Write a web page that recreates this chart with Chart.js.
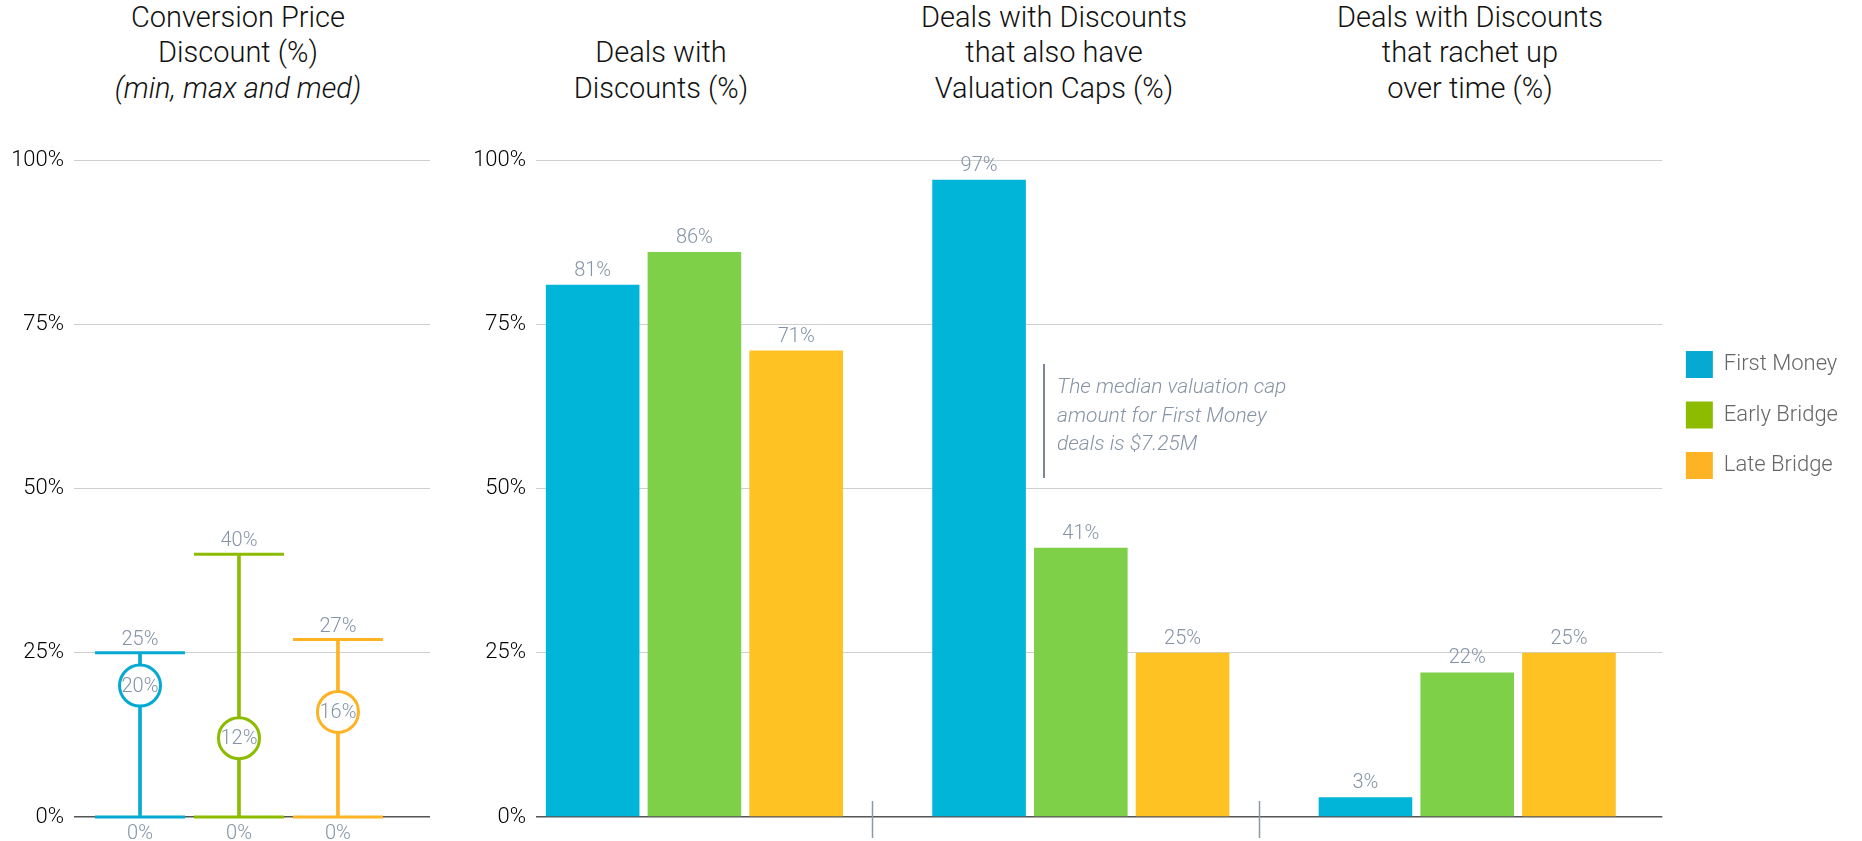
<!DOCTYPE html>
<html>
<head>
<meta charset="utf-8">
<script src="https://cdn.jsdelivr.net/npm/chart.js@4.4.1/dist/chart.umd.min.js"></script>
<style>
  html, body { margin: 0; padding: 0; background: #fff; }
  #wrap { position: relative; width: 1862px; height: 841px; overflow: hidden; font-family: Roboto, 'Helvetica Neue', Arial, sans-serif; font-weight: 300; }
  .title { position: absolute; bottom: 735px; transform: translateX(-50%); text-align: center; white-space: nowrap; font-size: 29px; line-height: 35.5px; color: #111; }
  .title i { font-style: italic; }
  .note { position: absolute; left: 1043px; top: 364px; height: 114px; border-left: 2.5px solid #7A8795; padding-left: 12px; font-size: 21px; line-height: 28.5px; font-style: italic; color: #8794A4; white-space: nowrap; }
  .note div { margin-top: 8px; }
  canvas { position: absolute; top: 0; }
</style>
</head>
<body>
<div id="wrap">
  <div class="title" style="left:238px">Conversion Price<br>Discount (%)<br><i>(min, max and med)</i></div>
  <div class="title" style="left:661px">Deals with<br>Discounts (%)</div>
  <div class="title" style="left:1054px">Deals with Discounts<br>that also have<br>Valuation Caps (%)</div>
  <div class="title" style="left:1470px">Deals with Discounts<br>that rachet up<br>over time (%)</div>
  <canvas id="c1" width="440" height="841" style="left:0px"></canvas>
  <canvas id="c2" width="1422" height="841" style="left:440px"></canvas>
  <div class="note"><div>The median valuation cap<br>amount for First Money<br>deals is $7.25M</div></div>
</div>
<script>
// ---------- data ----------
const seriesNames = ['First Money', 'Early Bridge', 'Late Bridge'];
const seriesColors = ['#05A9D1', '#8DBB00', '#FDB324'];   // whiskers / legend
const barColors = ['#01B5D8', '#7ED048', '#FEC222'];      // bars
const discountMin = [0, 0, 0];
const discountMax = [25, 40, 27];
const discountMed = [20, 12, 16];
const groupCategories = ['Deals with Discounts', 'Discounts with Valuation Caps', 'Discounts that rachet up'];
const firstMoney = [81, 97, 3];
const earlyBridge = [86, 41, 22];
const lateBridge = [71, 25, 25];
const yTickValues = [0, 25, 50, 75, 100];

const FONT = "Roboto, 'Helvetica Neue', Arial, sans-serif";
const labelColor = '#8493A5';
Chart.defaults.font.family = FONT;
Chart.defaults.font.weight = '300';
Chart.defaults.animation = false;

function yAxis(width) {
  return {
    min: 0, max: 100,
    afterBuildTicks: s => { s.ticks = yTickValues.map(v => ({ value: v })); },
    afterFit: s => { s.width = width; },
    ticks: { callback: v => v + '%', color: '#000000', font: { size: 22, weight: '300' }, padding: 10 },
    grid: {
      drawTicks: false,
      color: c => c.tick && c.tick.value === 0 ? '#555555' : '#CFCFCF',
      lineWidth: c => c.tick && c.tick.value === 0 ? 1.5 : 1
    },
    border: { display: false }
  };
}

// ---------- chart 1: min / max / median ----------
const idx = seriesNames.map((_, i) => i);
const labels1 = {
  id: 'labels1',
  afterDatasetsDraw(chart) {
    const ctx = chart.ctx, xs = chart.scales.x, ys = chart.scales.y;
    ctx.save();
    ctx.font = "300 20px " + FONT;
    ctx.fillStyle = labelColor;
    ctx.textAlign = 'center';
    idx.forEach(i => {
      const x = xs.getPixelForValue(i);
      ctx.textBaseline = 'alphabetic';
      ctx.fillText(discountMax[i] + '%', x, ys.getPixelForValue(discountMax[i]) - 8);
      ctx.fillText(discountMin[i] + '%', x, ys.getPixelForValue(discountMin[i]) + 22);
      ctx.textBaseline = 'middle';
      ctx.fillText(discountMed[i] + '%', x, ys.getPixelForValue(discountMed[i]) + 1);
    });
    ctx.restore();
  }
};

new Chart(document.getElementById('c1'), {
  type: 'bar',
  data: {
    labels: seriesNames,
    datasets: [
      {
        type: 'scatter', label: 'median', order: 0, clip: false,
        data: idx.map(i => ({ x: i, y: discountMed[i] })),
        pointRadius: 20.5, pointBackgroundColor: '#ffffff',
        pointBorderColor: seriesColors, pointBorderWidth: 3
      },
      {
        type: 'scatter', label: 'max', order: 1, clip: false,
        data: idx.map(i => ({ x: i, y: discountMax[i] })),
        pointStyle: 'line', pointRadius: 45, pointBorderColor: seriesColors, pointBorderWidth: 3
      },
      {
        type: 'scatter', label: 'min', order: 1, clip: false,
        data: idx.map(i => ({ x: i, y: discountMin[i] })),
        pointStyle: 'line', pointRadius: 45, pointBorderColor: seriesColors, pointBorderWidth: 3
      },
      {
        type: 'bar', label: 'range', order: 3,
        data: idx.map(i => ({ x: i, y: [discountMin[i], discountMax[i]] })),
        backgroundColor: seriesColors, barThickness: 3, borderSkipped: false
      }
    ]
  },
  options: {
    responsive: false,
    layout: { autoPadding: false, padding: { top: 160, bottom: 24, left: 0, right: 10 } },
    plugins: { legend: { display: false }, tooltip: { enabled: false } },
    scales: {
      x: { type: 'linear', display: false, offset: false, min: -0.667, max: 2.93,
           afterBuildTicks: s => { s.ticks = idx.map(i => ({ value: i })); } },
      y: yAxis(74)
    }
  },
  plugins: [labels1]
});

// ---------- chart 2: grouped bars ----------
const groupIdx = groupCategories.map((_, i) => i);
const seriesValues = [firstMoney, earlyBridge, lateBridge];
const separatorShift = 0.54;

const labels2 = {
  id: 'labels2',
  afterDatasetsDraw(chart) {
    const ctx = chart.ctx;
    ctx.save();
    ctx.font = "300 20px " + FONT;
    ctx.fillStyle = labelColor;
    ctx.textAlign = 'center';
    ctx.textBaseline = 'alphabetic';
    chart.data.datasets.forEach((ds, d) => {
      chart.getDatasetMeta(d).data.forEach((el, i) => {
        ctx.fillText(seriesValues[d][i] + '%', el.x, el.y - 9);
      });
    });
    // separators between groups
    const xs = chart.scales.x, ys = chart.scales.y;
    const y0 = ys.getPixelForValue(0);
    ctx.strokeStyle = '#8E98A2';
    ctx.lineWidth = 1.5;
    groupIdx.slice(1).forEach(i => {
      const x = Math.round(xs.getPixelForValue(i - separatorShift)) + 0.5;
      ctx.beginPath(); ctx.moveTo(x, y0 - 16); ctx.lineTo(x, y0 + 21); ctx.stroke();
    });
    ctx.restore();
  }
};

new Chart(document.getElementById('c2'), {
  type: 'bar',
  data: {
    datasets: seriesNames.map((name, s) => ({
      label: name,
      data: groupIdx.map(i => ({ x: i, y: seriesValues[s][i] })),
      backgroundColor: barColors[s],
      categoryPercentage: 0.79,
      barPercentage: 0.92
    }))
  },
  options: {
    responsive: false,
    layout: { autoPadding: false, padding: { top: 160, bottom: 24, left: 0, right: 14 } },
    plugins: {
      tooltip: { enabled: false },
      legend: {
        position: 'right',
        align: 'start',
        title: { display: true, text: '', font: { size: 10 }, padding: { top: 78, bottom: 77.5 } },
        labels: {
          boxWidth: 27, boxHeight: 27, padding: 23.5, color: '#2E2E2E',
          font: { size: 22, weight: '300' },
          generateLabels: chart => seriesNames.map((n, i) => ({
            text: n, fillStyle: seriesColors[i], strokeStyle: seriesColors[i], lineWidth: 0, datasetIndex: i, hidden: false
          }))
        }
      }
    },
    scales: {
      x: { type: 'linear', display: false, offset: false, min: -0.41, max: 2.505,
           afterBuildTicks: s => { s.ticks = groupIdx.map(i => ({ value: i })); } },
      y: yAxis(96)
    }
  },
  plugins: [labels2]
});
</script>
</body>
</html>
